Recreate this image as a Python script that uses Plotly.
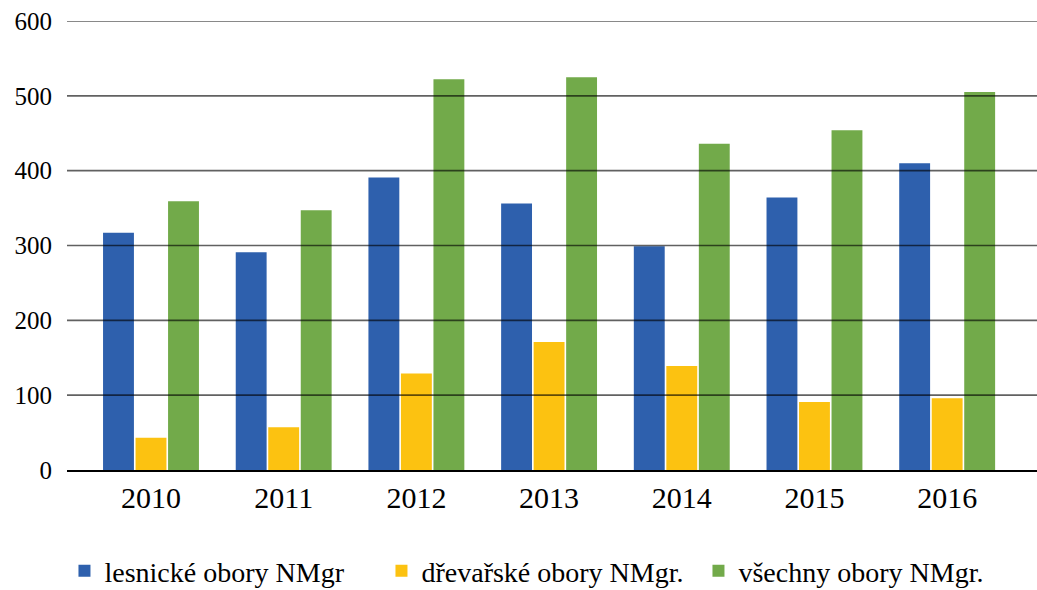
import plotly.graph_objects as go

years = ["2010", "2011", "2012", "2013", "2014", "2015", "2016"]
lesnicke = [317, 291, 391, 356, 299, 364, 410]
drevarske = [43, 57, 129, 171, 139, 91, 96]
vsechny = [359, 347, 522, 525, 436, 454, 505]
series_names = ["lesnické obory NMgr", "dřevařské obory NMgr.", "všechny obory NMgr."]
y_ticks = [0, 100, 200, 300, 400, 500, 600]

colors = ["#2E60AD", "#FCC211", "#72AA4A"]
FONT = "Liberation Serif, DejaVu Serif, Times New Roman, serif"

fig = go.Figure()
for name, vals, col in zip(series_names, [lesnicke, drevarske, vsechny], colors):
    fig.add_trace(go.Bar(x=years, y=vals, name=name, marker=dict(color=col, line=dict(width=0))))

# gridlines drawn above the bars (semi-transparent), as in the reference
for t in y_ticks[1:]:
    fig.add_shape(type="line", xref="paper", x0=0, x1=1, yref="y", y0=t, y1=t,
                  line=dict(color="rgba(0,0,0,0.62)", width=1.6), layer="above")

fig.update_layout(
    width=1037, height=590,
    margin=dict(l=67, r=0, t=21, b=120, autoexpand=False),
    paper_bgcolor="white", plot_bgcolor="white",
    barmode="group", bargap=0.265, bargroupgap=0.05,
    font=dict(family=FONT, color="black"),
    showlegend=True,
    legend=dict(orientation="h", x=0.4876, xanchor="center", y=-0.225, yanchor="middle",
                entrywidth=272, entrywidthmode="pixels",
                font=dict(size=28, family=FONT, color="black"), traceorder="normal"),
    xaxis=dict(type="category", range=[-0.633, 6.677], showgrid=False, automargin=False,
               showline=True, linecolor="black", linewidth=1.6, layer="above traces",
               tickfont=dict(size=30, family=FONT, color="black"), ticks=""),
    yaxis=dict(range=[0, 600], tickvals=y_ticks, showgrid=False, zeroline=False, automargin=False,
               showline=False, ticks="", ticklabelstandoff=14,
               tickfont=dict(size=25, family=FONT, color="black")),
)

fig.write_html("out.html", config={"displayModeBar": False},
               post_script="document.body.style.margin='0px';document.body.style.overflow='hidden';")
